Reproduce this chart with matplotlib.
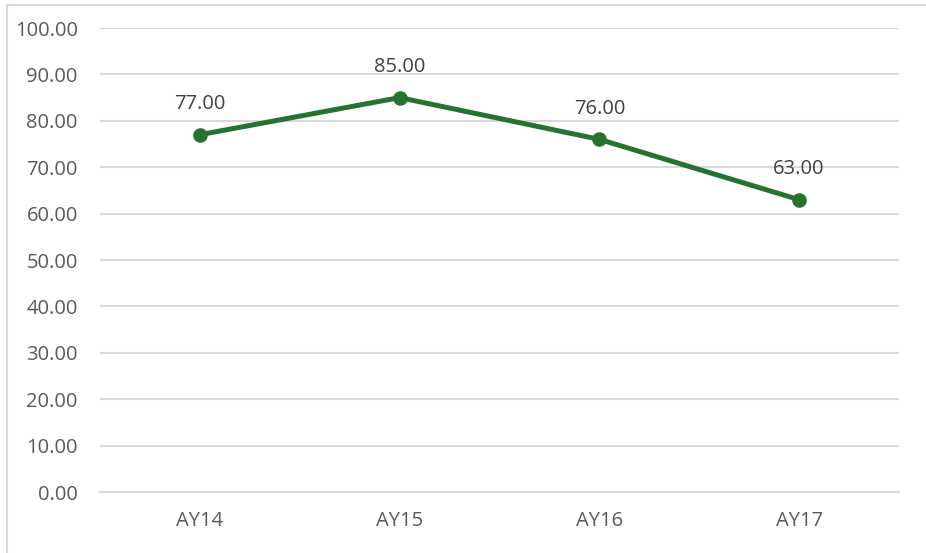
import matplotlib.pyplot as plt
from matplotlib.lines import Line2D

plt.rcParams['font.family'] = ['Open Sans', 'DejaVu Sans']

# --- dados ---
years = ["AY14", "AY15", "AY16", "AY17"]
values = [77.00, 85.00, 76.00, 63.00]

green = "#267331"
grid_color = "#D9D9D9"
text_color = "#595959"

fig = plt.figure(figsize=(9.26, 5.53), dpi=100)
ax = fig.add_axes([100/926, 1-492/553, 799/926, (492-28)/553])

x = list(range(len(years)))
ax.plot(x, values, color=green, linewidth=3.6, marker='o', markersize=9.5,
        solid_capstyle='round', zorder=3)

for xi, v in zip(x, values):
    ax.annotate(f"{v:.2f}", (xi, v), xytext=(0, 15), textcoords='offset points',
                ha='center', va='bottom', fontsize=14.5, color="#404040")

ax.set_xlim(-0.5, len(years)-0.5)
ax.set_ylim(0, 100)
ax.set_yticks(range(0, 101, 10))
ax.set_yticklabels([f"{t:.2f}" for t in range(0, 101, 10)])
ax.set_xticks(x)
ax.set_xticklabels(years)

ax.grid(axis='y', color=grid_color, linewidth=1.5)
ax.set_axisbelow(True)
for s in ["top", "right", "left"]:
    ax.spines[s].set_visible(False)
ax.spines["bottom"].set_color(grid_color)
ax.spines["bottom"].set_linewidth(1.5)
ax.tick_params(axis='both', length=0, labelsize=14.5, labelcolor=text_color)
ax.tick_params(axis='y', pad=16)
ax.tick_params(axis='x', pad=14)

# moldura do grafico (so topo e esquerda visiveis)
fig.add_artist(Line2D([7/926, 1], [1-5/553, 1-5/553], color=grid_color, linewidth=1.5))
fig.add_artist(Line2D([7/926, 7/926], [0, 1-5/553], color=grid_color, linewidth=1.5))

fig.savefig("out.png", dpi=100)
